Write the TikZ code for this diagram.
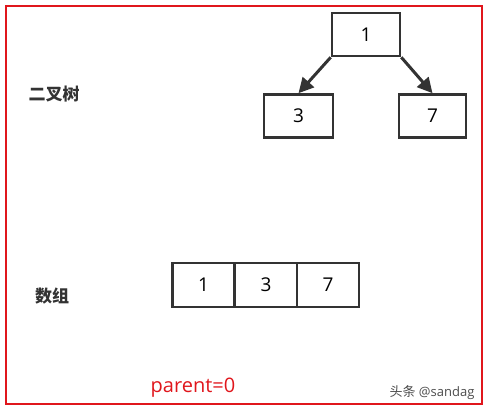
\documentclass[tikz,border=0pt]{standalone}
\usepackage{fontspec}
\setmainfont{Open Sans}
\newfontfamily\cjk{Noto Sans CJK SC}
\usetikzlibrary{arrows.meta}

\definecolor{boxgray}{HTML}{333333}
\definecolor{framered}{HTML}{E0161C}

\tikzset{
  treebox/.style={draw=boxgray, line width=2.6pt, minimum width=68pt, minimum height=43pt,
    inner sep=0pt, font=\fontsize{19}{19}\selectfont},
  cell/.style={treebox, minimum width=62pt, minimum height=44pt},
  link/.style={draw=boxgray, line width=3pt, -{Triangle[width=15pt,length=15pt]}},
  caption/.style={font=\cjk\bfseries\fontsize{17}{17}\selectfont, text=boxgray}
}

\begin{document}
\begin{tikzpicture}[x=1pt,y=-1pt]
            \useasboundingbox (0,0) rectangle (487,412);
            \draw[framered, line width=2pt] (6,6) rectangle (482,404);

            % tree
            \node[treebox] (one) at (366,34.5) {1};
            \node[treebox, minimum width=69pt] (three) at (298.5,116) {3};
            \node[treebox, minimum width=67pt] (seven) at (432.5,116) {7};
            \draw[link] (one.south west) -- (three.north);
            \draw[link] (one.south east) -- (seven.north);
            \node[caption] (treelabel) at (54,94) {二叉树};

            % array
            \foreach \v/\cx [count=\i] in {1/203.5,3/266,7/328}
                \node[cell] (cell\i) at (\cx,285) {\v};
            \node[caption] (arraylabel) at (52,296) {数组};

            \node[text=framered, font=\fontsize{20}{20}\selectfont] (parent) at (193,388) {parent=0};
            \node[text=black!70, font=\fontsize{13}{13}\selectfont] (mark) at (432,393) {{\cjk 头条} @sandag};
\end{tikzpicture}
\end{document}
